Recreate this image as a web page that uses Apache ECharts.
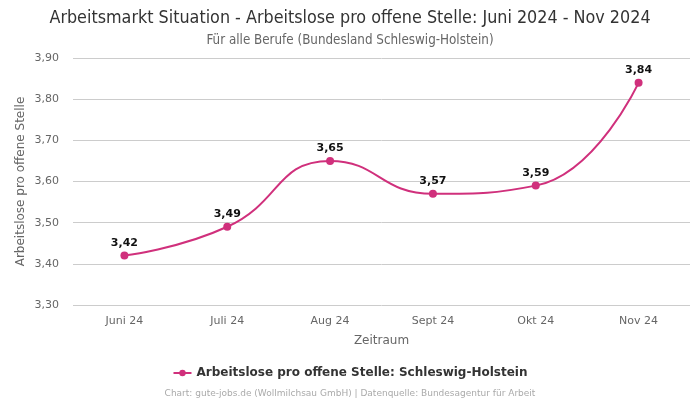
<!DOCTYPE html>
<html><head><meta charset="utf-8">
<script src="https://cdn.jsdelivr.net/npm/echarts@6/dist/echarts.min.js"></script>
<style>html,body{margin:0;padding:0;background:#fff}#c{width:700px;height:400px}</style>
</head><body><div id="c"></div>
<script>
var categories = ["Juni 24", "Juli 24", "Aug 24", "Sept 24", "Okt 24", "Nov 24"];
var values = [3.42, 3.49, 3.65, 3.57, 3.59, 3.84];
var seriesName = "Arbeitslose pro offene Stelle: Schleswig-Holstein";
var fmt = function (v) { return v.toFixed(2).replace('.', ','); };
var chart = echarts.init(document.getElementById('c'));
chart.setOption({
  animation: false,
  textStyle: { fontFamily: 'DejaVu Sans' },
  title: [
    { text: 'Arbeitsmarkt Situation - Arbeitslose pro offene Stelle: Juni 2024 - Nov 2024', left: 'center', top: 4,
      textStyle: { fontSize: 17.8, fontWeight: 'normal', color: '#333', fontFamily: 'DejaVu Sans Condensed, DejaVu Sans' } },
    { text: 'Für alle Berufe (Bundesland Schleswig-Holstein)', left: 'center', top: 29,
      textStyle: { fontSize: 13.3, fontWeight: 'normal', color: '#666', fontFamily: 'DejaVu Sans Condensed, DejaVu Sans' } },
    { text: 'Chart: gute-jobs.de (Wollmilchsau GmbH) | Datenquelle: Bundesagentur für Arbeit', left: 'center', top: 384,
      textStyle: { fontSize: 9, fontWeight: 'normal', color: '#aaa' } }
  ],
  legend: { bottom: 16, left: 'center', itemWidth: 18, itemHeight: 8,
    textStyle: { fontSize: 12, fontWeight: 'bold', color: '#333' }, data: [seriesName] },
  grid: { left: 73, right: 10, top: 58, bottom: 95 },
  xAxis: { type: 'category', data: categories, boundaryGap: true,
    name: 'Zeitraum', nameLocation: 'middle', nameGap: 30, nameTextStyle: { fontSize: 12, color: '#666' },
    axisLine: { show: false }, axisTick: { show: false },
    axisLabel: { color: '#666', fontSize: 11, margin: 11 } },
  yAxis: { type: 'value', min: 3.3, max: 3.9, interval: 0.1,
    name: 'Arbeitslose pro offene Stelle', nameLocation: 'middle', nameGap: 46, nameMoveOverlap: false,
    nameTextStyle: { fontSize: 12, color: '#666' },
    axisLabel: { color: '#666', fontSize: 11, formatter: fmt, margin: 14 },
    splitLine: { lineStyle: { color: '#ccc' } } },
  series: [{ name: seriesName, type: 'line', data: values, smooth: true,
    symbol: 'circle', symbolSize: 8,
    itemStyle: { color: '#d0307c' }, lineStyle: { color: '#d0307c', width: 2 },
    label: { show: true, position: 'top', distance: 3, fontWeight: 'bold', fontSize: 11, color: '#111', formatter: function (p) { return fmt(p.value); } } }]
});
</script></body></html>
